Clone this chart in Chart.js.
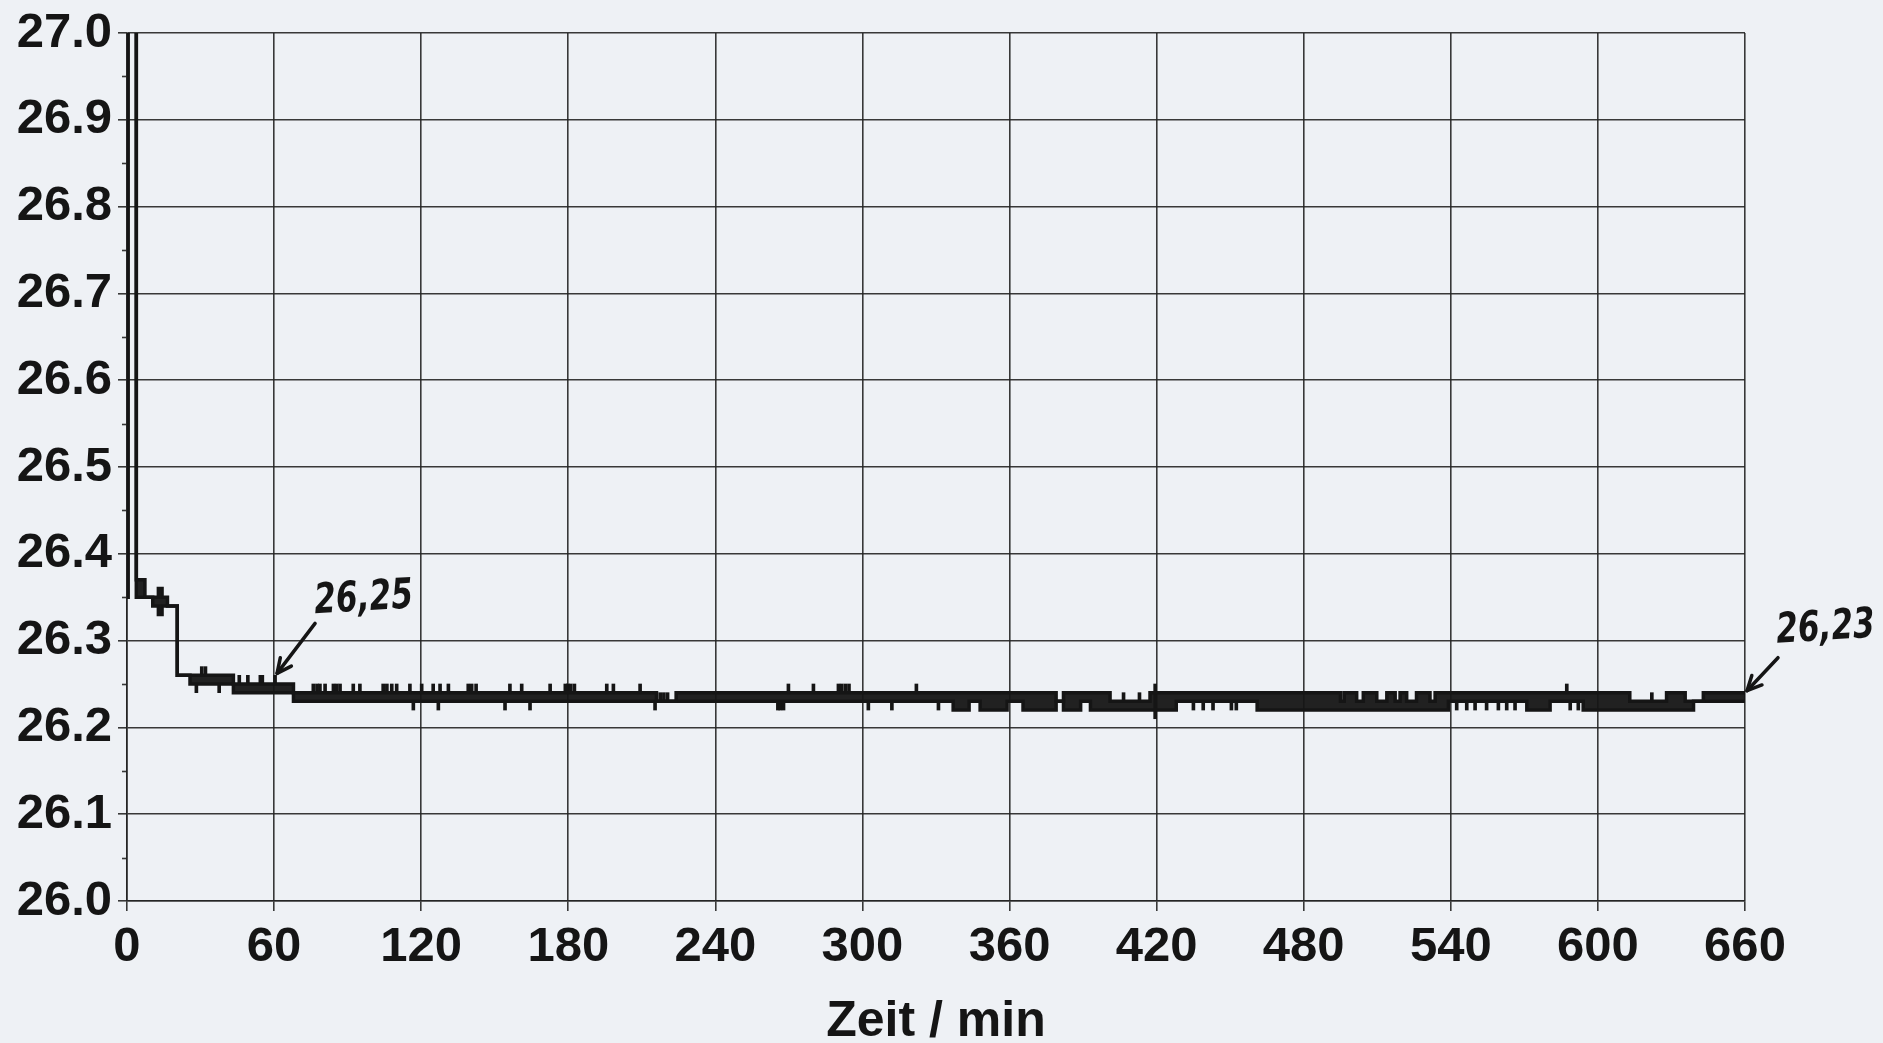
<!DOCTYPE html>
<html>
<head>
<meta charset="utf-8">
<title>Zeit / min</title>
<script src="https://cdn.jsdelivr.net/npm/chart.js@4.4.1/dist/chart.umd.min.js"></script>
<style>
    html, body { margin: 0; padding: 0; background: #eef1f5; }
    canvas { display: block; }
</style>
</head>
<body>
<canvas id="chart" width="1883" height="1043"></canvas>
<script>
// axis ticks
const xTickLabels = [0, 60, 120, 180, 240, 300, 360, 420, 480, 540, 600, 660];
const yTickLabels = [26.0, 26.1, 26.2, 26.3, 26.4, 26.5, 26.6, 26.7, 26.8, 26.9, 27.0];

// trace: from each time (min) on, the signal stays between low and high
const bandTime = [0, 0.4, 3.8, 7.3, 10.5, 12.8, 14.3, 16.5, 20.5, 25.7,
    43.4, 67.9, 216, 224, 337, 343.5, 348, 359, 365.5, 379,
    382, 389, 393, 401, 417.3, 428, 461, 495, 496.5, 501.6,
    504.3, 509.8, 513.9, 517.3, 519.3, 522, 526, 531.5, 533.6, 539,
    571, 580.5, 594, 613, 628, 635.6, 639, 643, 660];
const bandLow = [26.35, 27.3, 26.35, 26.35, 26.34, 26.33, 26.34, 26.34, 26.26, 26.25,
    26.24, 26.23, 26.23, 26.23, 26.22, 26.23, 26.22, 26.23, 26.22, 26.23,
    26.22, 26.23, 26.22, 26.22, 26.22, 26.23, 26.22, 26.22, 26.22, 26.22,
    26.22, 26.22, 26.22, 26.22, 26.22, 26.22, 26.22, 26.22, 26.22, 26.23,
    26.22, 26.23, 26.22, 26.22, 26.22, 26.22, 26.23, 26.23, 26.23];
const bandHigh = [26.35, 27.3, 26.37, 26.35, 26.35, 26.36, 26.35, 26.34, 26.26, 26.26,
    26.25, 26.24, 26.23, 26.24, 26.24, 26.24, 26.24, 26.24, 26.24, 26.23,
    26.24, 26.24, 26.24, 26.23, 26.24, 26.24, 26.24, 26.23, 26.24, 26.23,
    26.24, 26.23, 26.24, 26.23, 26.24, 26.23, 26.24, 26.23, 26.24, 26.24,
    26.24, 26.24, 26.24, 26.23, 26.24, 26.23, 26.23, 26.24, 26.24];

// single excursions out of the band
const spikeTime = [28.3, 30.5, 32.0, 37.6, 45.8, 49.3, 54.4, 55.2, 60.4,
    76.0, 77.5, 78.7, 80.8, 84.2, 85.5, 86.9, 92.3, 95.0, 104.5,
    106, 108, 110, 115.4, 120.2, 124.9, 127.7, 131.1, 139.2, 140.6,
    142.4, 156.2, 161, 172.6, 178.8, 179.8, 181, 182.5, 195.7, 198.4,
    209.3, 269.8, 280, 290.2, 291.5, 293, 294.5, 322, 587.3,
    116.8, 127, 154.2, 164.4, 215.4, 265.5, 266.5, 267.8, 302.4, 312,
    331, 435, 439, 443, 450.5, 452.5, 542.4, 546.5, 549.9, 554.6,
    559.4, 562.8, 566.2, 588.7, 592,
    217.5, 219, 220.5, 406.5, 413, 622, 419.4];
const spikeFrom = [26.24, 26.26, 26.26, 26.24, 26.25, 26.25, 26.25, 26.25, 26.25,
    26.24, 26.24, 26.24, 26.24, 26.24, 26.24, 26.24, 26.24, 26.24, 26.24,
    26.24, 26.24, 26.24, 26.24, 26.24, 26.24, 26.24, 26.24, 26.24, 26.24,
    26.24, 26.24, 26.24, 26.24, 26.24, 26.24, 26.24, 26.24, 26.24, 26.24,
    26.24, 26.24, 26.24, 26.24, 26.24, 26.24, 26.24, 26.24, 26.24,
    26.22, 26.22, 26.22, 26.22, 26.22, 26.22, 26.22, 26.22, 26.22, 26.22,
    26.22, 26.22, 26.22, 26.22, 26.22, 26.22, 26.22, 26.22, 26.22, 26.22,
    26.22, 26.22, 26.22, 26.22, 26.22,
    26.23, 26.23, 26.23, 26.23, 26.23, 26.23, 26.21];
const spikeTo = [26.25, 26.27, 26.27, 26.25, 26.26, 26.26, 26.26, 26.26, 26.26,
    26.25, 26.25, 26.25, 26.25, 26.25, 26.25, 26.25, 26.25, 26.25, 26.25,
    26.25, 26.25, 26.25, 26.25, 26.25, 26.25, 26.25, 26.25, 26.25, 26.25,
    26.25, 26.25, 26.25, 26.25, 26.25, 26.25, 26.25, 26.25, 26.25, 26.25,
    26.25, 26.25, 26.25, 26.25, 26.25, 26.25, 26.25, 26.25, 26.25,
    26.23, 26.23, 26.23, 26.23, 26.23, 26.23, 26.23, 26.23, 26.23, 26.23,
    26.23, 26.23, 26.23, 26.23, 26.23, 26.23, 26.23, 26.23, 26.23, 26.23,
    26.23, 26.23, 26.23, 26.23, 26.23,
    26.24, 26.24, 26.24, 26.24, 26.24, 26.24, 26.25];

// handwritten notes on the print
const noteTime = [60.4, 660];
const noteValue = [26.26, 26.24];
const noteText = ['26,25', '26,23'];

const ink = '#151515';
const gridInk = 'rgba(35,35,35,0.9)';
const paper = '#eef1f5';

const paperPlugin = {
    id: 'paper',
    beforeDraw(chart) {
        const ctx = chart.ctx;
        ctx.save();
        ctx.fillStyle = paper;
        ctx.fillRect(0, 0, chart.width, chart.height);
        ctx.restore();
    }
};

// short ticks half way between the labelled ones on the y axis
const minorTickPlugin = {
    id: 'minorTicks',
    afterDraw(chart) {
        const { ctx, scales: { x, y } } = chart;
        ctx.save();
        ctx.strokeStyle = gridInk;
        ctx.lineWidth = 1.6;
        for (let i = 1; i < yTickLabels.length; i++) {
            const py = Math.round(y.getPixelForValue((yTickLabels[i] + yTickLabels[i - 1]) / 2)) + 0.5;
            ctx.beginPath();
            ctx.moveTo(x.left - 5, py);
            ctx.lineTo(x.left, py);
            ctx.stroke();
        }
        ctx.restore();
    }
};

const noteOffsets = [
    { tail: [40, -52], text: [40, -62] },
    { tail: [33, -35], text: [32, -50] }
];

const notePlugin = {
    id: 'notes',
    afterDraw(chart) {
        const { ctx, scales: { x, y } } = chart;
        ctx.save();
        ctx.strokeStyle = ink;
        ctx.fillStyle = ink;
        ctx.lineWidth = 3.5;
        ctx.lineCap = 'round';
        ctx.lineJoin = 'round';
        noteTime.forEach((t, i) => {
            const px = x.getPixelForValue(t);
            const py = y.getPixelForValue(noteValue[i]);
            const off = noteOffsets[i];
            const tx = px + off.tail[0], ty = py + off.tail[1];

            ctx.beginPath();
            ctx.moveTo(tx, ty);
            ctx.lineTo(px + 2, py - 2);
            ctx.stroke();

            const ang = Math.atan2(py - ty, px - tx);
            const head = 16;
            ctx.beginPath();
            ctx.moveTo(px + 2 - head * Math.cos(ang - 0.45), py - 2 - head * Math.sin(ang - 0.45));
            ctx.lineTo(px + 2, py - 2);
            ctx.lineTo(px + 2 - head * Math.cos(ang + 0.45), py - 2 - head * Math.sin(ang + 0.45));
            ctx.stroke();

            ctx.save();
            ctx.translate(px + off.text[0], py + off.text[1]);
            ctx.rotate(-0.06);
            ctx.scale(0.78, 1.05);
            ctx.font = 'oblique bold 40px "DejaVu Sans"';
            ctx.textBaseline = 'alphabetic';
            ctx.fillText(noteText[i], 0, 0);
            ctx.restore();
        });
        ctx.restore();
    }
};

const tickFont = { family: '"Liberation Sans", Arial, sans-serif', weight: 'bold', size: 49, lineHeight: 1 };

const ctx = document.getElementById('chart').getContext('2d');
new Chart(ctx, {
    type: 'line',
    data: {
        datasets: [{
            label: 'max',
            data: bandTime.map((t, i) => ({ x: t, y: bandHigh[i] })),
            stepped: true,
            borderColor: ink,
            borderWidth: 3.5,
            pointRadius: 0,
            fill: '+1',
            backgroundColor: 'rgba(21,21,21,0.95)'
        }, {
            label: 'min',
            data: bandTime.map((t, i) => ({ x: t, y: bandLow[i] })),
            stepped: true,
            borderColor: ink,
            borderWidth: 3.5,
            pointRadius: 0,
            fill: false
        }, {
            type: 'bar',
            label: 'spikes',
            data: spikeTime.map((t, i) => ({ x: t, y: [spikeFrom[i], spikeTo[i]] })),
            backgroundColor: ink,
            borderWidth: 0,
            barThickness: 3,
            grouped: false
        }]
    },
    options: {
        responsive: false,
        animation: false,
        events: [],
        layout: { padding: { top: 33, right: 138, bottom: 0, left: 0 } },
        plugins: {
            legend: { display: false },
            tooltip: { enabled: false }
        },
        scales: {
            x: {
                type: 'linear',
                min: 0,
                max: 660,
                offset: false,
                afterBuildTicks: s => { s.ticks = xTickLabels.map(v => ({ value: v })); },
                afterFit: s => { s.height = 142; },
                grid: { offset: false, color: gridInk, lineWidth: 1.6, tickLength: 10, tickColor: gridInk },
                border: { display: true, color: gridInk, width: 1.6 },
                ticks: {
                    color: ink,
                    font: tickFont,
                    padding: 12,
                    maxRotation: 0,
                    autoSkip: false,
                    callback: v => String(v)
                },
                title: {
                    display: true,
                    text: 'Zeit / min',
                    color: ink,
                    font: { family: tickFont.family, weight: 'bold', size: 50, lineHeight: 1 },
                    padding: { top: 0, bottom: -4 }
                }
            },
            y: {
                min: 26,
                max: 27,
                afterBuildTicks: s => { s.ticks = yTickLabels.map(v => ({ value: v })); },
                afterFit: s => { s.width = 127; },
                grid: { color: gridInk, lineWidth: 1.6, tickLength: 9, tickColor: gridInk },
                border: { display: true, color: gridInk, width: 1.6 },
                ticks: {
                    color: ink,
                    font: tickFont,
                    padding: 6,
                    callback: v => v.toFixed(1)
                }
            }
        }
    },
    plugins: [paperPlugin, minorTickPlugin, notePlugin]
});
</script>
</body>
</html>
